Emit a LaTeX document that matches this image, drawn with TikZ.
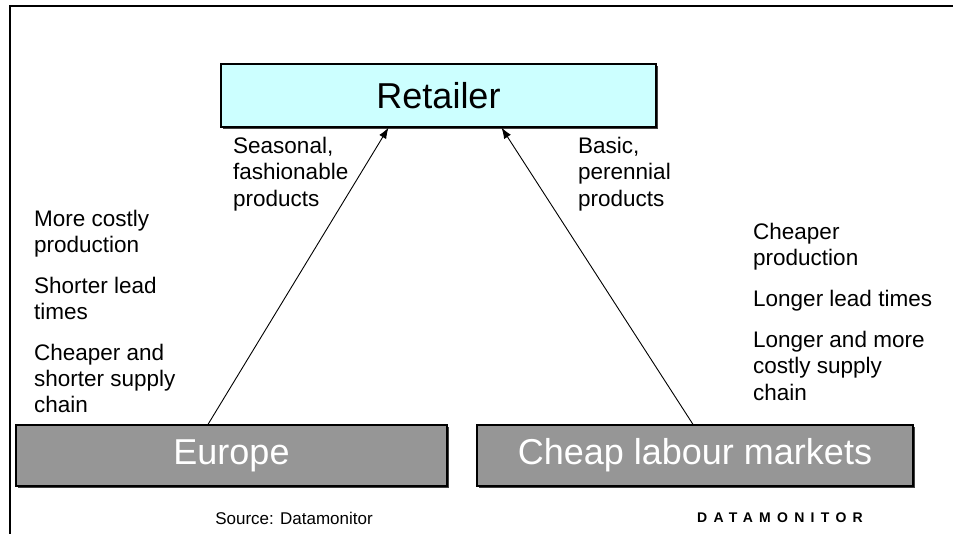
\documentclass[tikz,border=0pt]{standalone}
\usepackage{fontspec}
\setmainfont{Liberation Sans}
\usetikzlibrary{calc, arrows.meta, shadows}

\definecolor{retailcyan}{RGB}{204,255,255}
\definecolor{marketgray}{RGB}{150,150,150}

\begin{document}
\begin{tikzpicture}[x=1pt, y=-1pt,
  boxed/.style={draw=black, line width=1.2pt, inner sep=0pt,
    general shadow={fill=black!75, shadow xshift=2pt, shadow yshift=-2pt},
    font=\fontsize{36}{40}\selectfont},
  retail/.style={boxed, fill=retailcyan, minimum width=435pt, minimum height=63pt},
  market/.style={boxed, fill=marketgray, text=white, minimum height=61pt},
  supply/.style={-{Latex[length=11pt, width=8pt]}, line width=0.9pt},
  notes/.style={align=left, inner sep=0pt, anchor=north west,
    font=\fontsize{22.5}{26.3}\selectfont}]

\useasboundingbox (0,0) rectangle (953,534);

% Frame
\draw[line width=2pt] (10,534) -- (10,6) -- (953,6);

\node[retail] (retailer) at (438.5,95.5) {Retailer};
\node[market, minimum width=431pt] (europe) at (231.5,455.5) {Europe};
\node[market, minimum width=436pt] (cheap) at (695,455.5) {Cheap labour markets};

% Ends of the two supply arrows
\coordinate (eu_out) at ($(europe.north)+(-23.5,0)$);
\coordinate (eu_in) at ($(retailer.south)+(-50,0)$);
\coordinate (cl_out) at ($(cheap.north)+(-2,0)$);
\coordinate (cl_in) at ($(retailer.south)+(63,0)$);

\draw[supply] (eu_out) -- (eu_in);
\draw[supply] (cl_out) -- (cl_in);

% Product labels
\node[notes] (seasonal) at (233,137) {Seasonal,\\fashionable\\products};
\node[notes] (basic) at (578,137) {Basic,\\perennial\\products};

% Features of each source
\node[notes] (eu_notes) at (34,209.5) {More costly\\production\\[14.5pt]
  Shorter lead\\times\\[14.5pt]
  Cheaper and\\shorter supply\\chain};
\node[notes] (cl_notes) at (753,223) {Cheaper\\production\\[14.5pt]
  Longer lead times\\[14.5pt]
  Longer and more\\costly supply\\chain};

% Footer
\node[font=\fontsize{17}{20}\selectfont] (source) at (294,518) {Source: Datamonitor};
\node[font=\fontsize{14}{17}\selectfont\bfseries\addfontfeature{LetterSpace=45}] (brand) at (780,518) {DATAMONITOR};

\end{tikzpicture}
\end{document}
